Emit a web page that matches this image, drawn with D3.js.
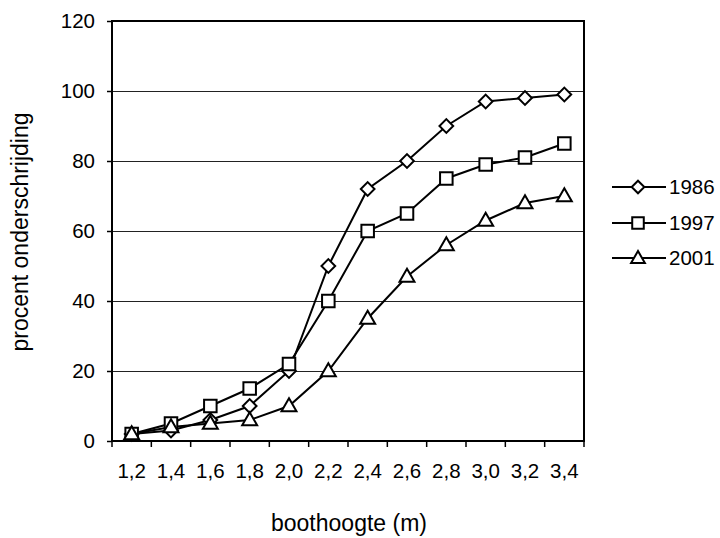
<!DOCTYPE html>
<html><head><meta charset="utf-8">
<script src="https://cdn.jsdelivr.net/npm/d3@7/dist/d3.min.js"></script>
<style>body{margin:0;background:#fff}svg{display:block}text{font-family:"Liberation Sans",Arial,sans-serif;fill:#000}</style>
</head><body><svg id="c" width="720" height="538"></svg>
<script>
const categories = ["1,2","1,4","1,6","1,8","2,0","2,2","2,4","2,6","2,8","3,0","3,2","3,4"];
const s1986 = [2,3,6,10,20,50,72,80,90,97,98,99];
const s1997 = [2,5,10,15,22,40,60,65,75,79,81,85];
const s2001 = [2,4,5,6,10,20,35,47,56,63,68,70];
const yTicks = [0,20,40,60,80,100,120];
const seriesNames = ["1986","1997","2001"];
const markers = ["diamond","square","triangle"];

const svg = d3.select("#c");
const L=112, R=584, T=21, B=441;
const FS = 20.5, TFS = 23;
const x = d3.scaleBand().domain(categories).range([L,R]);
const y = d3.scaleLinear().domain([0,120]).range([B,T]);

// gridlines
svg.append("g").selectAll("line").data(yTicks.filter(d=>d>0 && d<120)).join("line")
  .attr("x1",L).attr("x2",R).attr("y1",d=>y(d)+0.5).attr("y2",d=>y(d)+0.5)
  .attr("stroke","#222").attr("stroke-width",1);

// frame
svg.append("rect").attr("x",L).attr("y",T).attr("width",R-L).attr("height",B-T)
  .attr("fill","none").attr("stroke","#000").attr("stroke-width",2);

// y axis
const ya = svg.append("g").attr("transform",`translate(${L},0)`)
  .call(d3.axisLeft(y).tickValues(yTicks).tickSize(5).tickPadding(12).tickFormat(d3.format("d")));
ya.select(".domain").remove();
ya.selectAll("line").attr("stroke-width",1.5);
ya.selectAll("text").attr("font-size",FS).attr("font-family","Liberation Sans, Arial, sans-serif");

// x axis
const xa = svg.append("g").attr("transform",`translate(0,${B})`)
  .call(d3.axisBottom(x).tickSize(0).tickPadding(22));
xa.select(".domain").remove();
xa.selectAll("text").attr("font-size",FS).attr("font-family","Liberation Sans, Arial, sans-serif");
// tick marks at band boundaries
const bounds = categories.map(c=>x(c)).concat([R]);
svg.append("g").selectAll("line").data(bounds).join("line")
  .attr("x1",d=>d).attr("x2",d=>d).attr("y1",B).attr("y2",B+6)
  .attr("stroke","#000").attr("stroke-width",1.5);

const cx = c => x(c)+x.bandwidth()/2;
const symType = {diamond:d3.symbolDiamond2, square:d3.symbolSquare2, triangle:d3.symbolTriangle2};
const symSize = {diamond:120, square:200, triangle:160};
const data = [s1986,s1997,s2001];
const line = d3.line().x((d,i)=>cx(categories[i])).y(d=>y(d));

data.forEach((vals,k)=>{
  svg.append("path").attr("d",line(vals)).attr("fill","none").attr("stroke","#000").attr("stroke-width",2);
});
data.forEach((vals,k)=>{
  svg.append("g").selectAll("path").data(vals).join("path")
    .attr("d",d3.symbol().type(symType[markers[k]]).size(symSize[markers[k]]))
    .attr("transform",(d,i)=>`translate(${cx(categories[i])},${y(d)+(markers[k]==="triangle"?1:0)})`)
    .attr("fill","#fff").attr("stroke","#000").attr("stroke-width",2);
});

// legend
const legY = [187,223,258];
seriesNames.forEach((n,k)=>{
  const g = svg.append("g");
  g.append("line").attr("x1",612).attr("x2",666).attr("y1",legY[k]).attr("y2",legY[k]).attr("stroke","#000").attr("stroke-width",2);
  g.append("path").attr("d",d3.symbol().type(symType[markers[k]]).size(symSize[markers[k]]*0.85)())
    .attr("transform",`translate(638,${legY[k]+(markers[k]==="triangle"?1:0)})`)
    .attr("fill","#fff").attr("stroke","#000").attr("stroke-width",2);
  g.append("text").attr("x",669).attr("y",legY[k]).attr("dy","0.35em").attr("font-size",FS).text(n);
});

// axis titles
svg.append("text").attr("x",349).attr("y",531).attr("text-anchor","middle").attr("font-size",TFS).text("boothoogte (m)");
svg.append("text").attr("transform","translate(28,232) rotate(-90)").attr("text-anchor","middle").attr("font-size",TFS).text("procent onderschrijding");
</script></body></html>
